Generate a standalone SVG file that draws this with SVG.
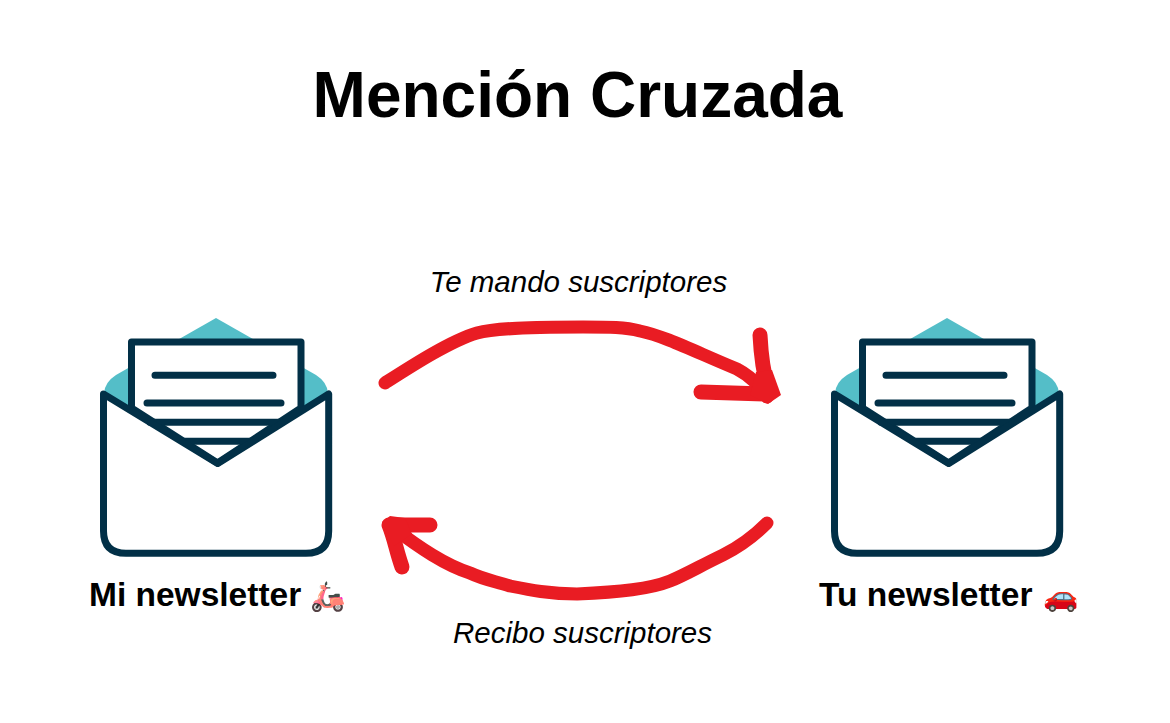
<svg xmlns="http://www.w3.org/2000/svg" width="1170" height="723" viewBox="0 0 1170 723">
<style>
.t{font-family:"Liberation Sans",Arial,sans-serif;fill:#000}
.title{font-size:64px;font-weight:700}
.lab{font-size:33.500px;font-weight:700}
.it{font-size:29.500px;font-style:italic}
.em{font-family:"Noto Color Emoji",sans-serif;font-size:28.500px}
.ln{fill:none;stroke:#023047;stroke-width:7;stroke-linecap:round;stroke-linejoin:round}
.ar{fill:none;stroke:#e91c23;stroke-linecap:round;stroke-linejoin:round}
</style>
<defs>
<g id="env">
<path d="M216 318L316 375Q327 382 328 393L217 462L104 393Q105 382 116 375Z" fill="#54bec8"/>
<path d="M131.500 342H301V408L217.500 463L131.500 408Z" class="ln" style="fill:#fff"/>
<path d="M155 375.300H273M147 403H281M150 422.300H282M185 441.300H250" class="ln"/>
<path d="M103.500 394L217.700 463.500L328.700 394V531Q328.700 553.300 306 553.300H126Q103.500 553.300 103.500 531Z" class="ln"/>
</g>
</defs>
<rect width="1170" height="723" fill="#fff"/>
<text class="t title" x="577.500" y="117" text-anchor="middle">Mención Cruzada</text>
<g id="node-mi"><use href="#env"/><text class="t lab" x="89" y="606">Mi newsletter</text><text class="em" x="310" y="606" style="filter:hue-rotate(-52deg) saturate(1.2)">🛵</text></g>
<g id="node-tu"><use href="#env" x="731"/><text class="t lab" x="819" y="606">Tu newsletter</text><text class="em" x="1043" y="606">🚗</text></g>
<g id="connectors">
<path class="ar" stroke-width="13" d="M385 383C410 367 450 341 477 333C495 328 530 327 583 327C610 327 625 327 640 331C665 336 700 354 737 369C752 377 760 386 767 397"/>
<path class="ar" stroke-width="15" d="M760 335C761 355 764 375 768 388M701 392L767 394"/>
<path d="M756 372L772 370L781 395L768 404L750 395Z" fill="#e91c23"/>
<path class="ar" stroke-width="13" d="M767 523C750 540 737 548 723 555C700 566 685 575 670 581C650 589 620 592 577 594C550 594 530 590 510 586C495 581 485 580 470 573C445 565 420 548 392 527"/>
<path class="ar" stroke-width="15" d="M430 525L389 525C395 540 396 550 402 567"/>
<path d="M382 522L390 516L405 518L412 534L394 546Z" fill="#e91c23"/>
</g>
<text class="t it" x="578.500" y="292" text-anchor="middle">Te mando suscriptores</text>
<text class="t it" x="582.500" y="643" text-anchor="middle">Recibo suscriptores</text>
</svg>
